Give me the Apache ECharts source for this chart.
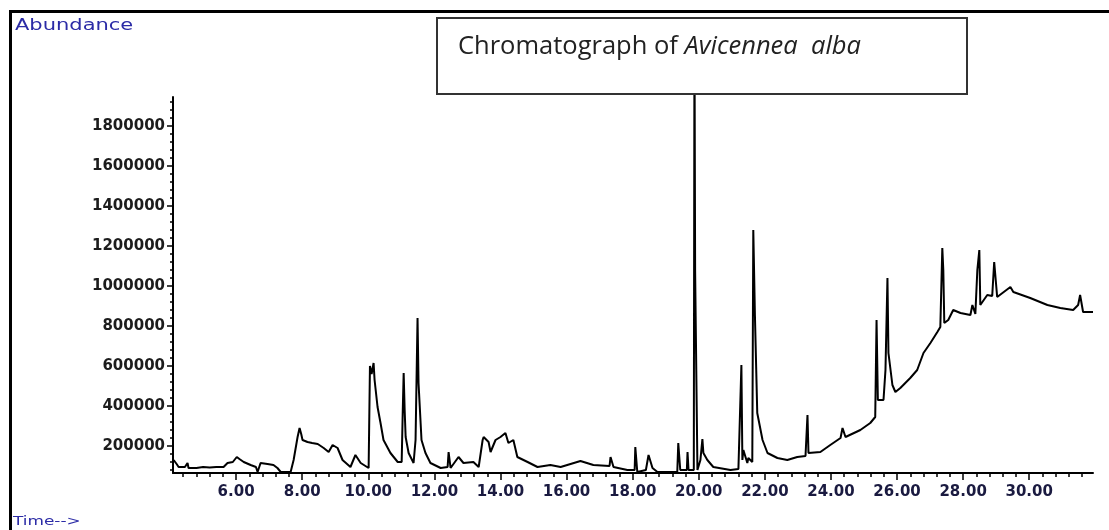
<!DOCTYPE html>
<html>
<head>
<meta charset="utf-8">
<title>Chromatograph of Avicennea alba</title>
<script src="https://cdn.jsdelivr.net/npm/echarts@6.0.0/dist/echarts.min.js"></script>
<style>
  html, body { margin: 0; padding: 0; background: #fff; }
  #chart { width: 1109px; height: 530px; }
</style>
</head>
<body>
<div id="chart"></div>
<script>
// retention time (min)
const times = [
  4.11, 4.20, 4.26, 4.45, 4.53, 4.56, 4.80, 5.00, 5.20, 5.40, 5.62, 5.74, 5.90, 6.02, 6.10, 6.23,
  6.44, 6.60, 6.65, 6.74, 6.95, 7.13, 7.25, 7.35, 7.65, 7.74, 7.86, 7.92, 7.97, 8.01, 8.16, 8.30,
  8.47, 8.65, 8.80, 8.92, 9.07, 9.22, 9.46, 9.61, 9.77, 10.01, 10.05, 10.10, 10.16, 10.19, 10.28,
  10.37, 10.46, 10.67, 10.89, 11.01, 11.04, 11.07, 11.10, 11.13, 11.22, 11.37, 11.43, 11.49, 11.52,
  11.61, 11.73, 11.88, 12.19, 12.40, 12.43, 12.49, 12.73, 12.88, 13.18, 13.34, 13.46, 13.49, 13.64,
  13.70, 13.85, 14.00, 14.15, 14.24, 14.39, 14.51, 14.82, 15.12, 15.51, 15.82, 16.42, 16.81, 17.30,
  17.33, 17.42, 17.84, 18.06, 18.08, 18.14, 18.40, 18.48, 18.60, 18.75, 19.35, 19.38, 19.44, 19.64,
  19.66, 19.69, 19.85, 19.87, 19.89, 19.93, 19.96, 20.05, 20.11, 20.14, 20.26, 20.44, 20.96, 21.20,
  21.29, 21.32, 21.35, 21.47, 21.50, 21.62, 21.65, 21.70, 21.77, 21.93, 22.08, 22.38, 22.68, 22.98,
  23.23, 23.29, 23.32, 23.68, 23.98, 24.29, 24.35, 24.44, 24.89, 25.19, 25.34, 25.38, 25.42, 25.59,
  25.65, 25.71, 25.74, 25.86, 25.95, 26.10, 26.40, 26.61, 26.80, 27.01, 27.22, 27.31, 27.37, 27.40,
  27.43, 27.55, 27.70, 27.92, 28.22, 28.28, 28.37, 28.43, 28.49, 28.52, 28.73, 28.88, 28.94, 29.03,
  29.43, 29.52, 30.03, 30.55, 30.94, 31.33, 31.48, 31.54, 31.63, 31.93
]
// abundance at each time
const abundance = [
  130000, 110000, 95000, 95000, 115000, 90000, 90000, 95000, 92000, 95000, 95000, 115000, 120000, 145000, 135000, 120000,
  105000, 95000, 70000, 115000, 110000, 105000, 90000, 70000, 70000, 130000, 245000, 290000, 260000, 230000, 220000, 215000,
  210000, 190000, 170000, 205000, 190000, 130000, 95000, 155000, 115000, 90000, 600000, 560000, 615000, 530000, 395000,
  315000, 230000, 165000, 120000, 120000, 355000, 565000, 380000, 245000, 165000, 115000, 230000, 840000, 515000,
  230000, 165000, 115000, 90000, 95000, 170000, 90000, 145000, 115000, 120000, 95000, 230000, 245000, 220000,
  170000, 230000, 245000, 265000, 215000, 230000, 145000, 120000, 95000, 105000, 95000, 125000, 105000, 100000,
  145000, 95000, 80000, 80000, 195000, 70000, 80000, 155000, 90000, 70000, 70000, 215000, 80000, 80000,
  170000, 80000, 80000, 2300000, 1075000, 1075000, 80000, 130000, 235000, 165000, 130000, 95000, 80000, 85000,
  605000, 130000, 180000, 115000, 140000, 120000, 1280000, 850000, 365000, 230000, 165000, 140000, 130000, 145000,
  150000, 355000, 165000, 170000, 205000, 240000, 290000, 245000, 280000, 315000, 345000, 830000, 430000, 430000,
  580000, 1040000, 665000, 505000, 470000, 490000, 540000, 580000, 665000, 715000, 770000, 795000, 1190000, 1080000,
  815000, 830000, 880000, 865000, 855000, 905000, 860000, 1080000, 1180000, 905000, 955000, 950000, 1120000, 945000,
  995000, 970000, 940000, 905000, 890000, 880000, 905000, 955000, 870000, 870000
]
const xTickLabels = [6, 8, 10, 12, 14, 16, 18, 20, 22, 24, 26, 28, 30]
const yTickLabels = [200000, 400000, 600000, 800000, 1000000, 1200000, 1400000, 1600000, 1800000]

const xMin = 4.09, xMax = 31.93
const yMin = 65000, yMax = 1945000

// minor ticks: 5 per major step
const xMinorTicks = []
for (let k = 11; k * 0.4 < xMax; k++) xMinorTicks.push(+(k * 0.4).toFixed(1))
const yMinorTicks = []
for (let k = 2; k * 40000 < yMax; k++) yMinorTicks.push(k * 40000)

const labelFont = 'DejaVu Sans'
const blue = '#2b2ba6'

const myEchart = echarts.init(document.getElementById('chart'), null, { renderer: 'canvas' })

const options = {
  animation: false,
  backgroundColor: '#fff',
  grid: {
    left: 173,
    right: 16,
    top: 97,
    bottom: 57
  },
  xAxis: [
    {
      type: 'value',
      min: xMin,
      max: xMax,
      position: 'bottom',
      axisLine: { lineStyle: { color: '#000', width: 2 } },
      axisTick: { customValues: xTickLabels, length: 7, lineStyle: { color: '#000', width: 1.5 } },
      axisLabel: {
        customValues: xTickLabels,
        formatter: (v) => v.toFixed(2),
        margin: 12,
        color: '#1a1a40',
        fontFamily: labelFont,
        fontWeight: 'bold',
        fontSize: 15
      },
      splitLine: { show: false }
    },
    {
      // minor ticks only
      type: 'value',
      min: xMin,
      max: xMax,
      position: 'bottom',
      axisLine: { show: false },
      axisTick: { customValues: xMinorTicks, length: 4, lineStyle: { color: '#000', width: 1.5 } },
      axisLabel: { show: false },
      splitLine: { show: false }
    }
  ],
  yAxis: [
    {
      type: 'value',
      min: yMin,
      max: yMax,
      position: 'left',
      axisLine: { show: true, lineStyle: { color: '#000', width: 2 } },
      axisTick: { show: true, customValues: yTickLabels, length: 6, lineStyle: { color: '#000', width: 1.5 } },
      axisLabel: {
        customValues: yTickLabels,
        formatter: (v) => String(v),
        margin: 8,
        color: '#1c1c1c',
        fontFamily: labelFont,
        fontWeight: 'bold',
        fontSize: 15
      },
      splitLine: { show: false }
    },
    {
      type: 'value',
      min: yMin,
      max: yMax,
      position: 'left',
      axisLine: { show: false },
      axisTick: { show: true, customValues: yMinorTicks, length: 3, lineStyle: { color: '#000', width: 1.5 } },
      axisLabel: { show: false },
      splitLine: { show: false }
    }
  ],
  series: [
    {
      type: 'line',
      name: 'TIC',
      xAxisIndex: 0,
      yAxisIndex: 0,
      symbol: 'none',
      clip: false, // the big peak runs up under the title box
      lineStyle: { color: '#000', width: 2 },
      data: times.map((t, i) => [t, abundance[i]]),
      z: 3
    }
  ],
  graphic: [
    {
      // outer frame
      type: 'rect',
      z: 50,
      shape: { x: 10.5, y: 11.5, width: 1200, height: 600 },
      style: { fill: 'none', stroke: '#000', lineWidth: 3 }
    },
    {
      type: 'text',
      z: 50,
      x: 15,
      y: 19,
      scaleX: 1.4,
      style: { text: 'Abundance', fill: blue, font: '15px "DejaVu Sans"' }
    },
    {
      type: 'text',
      z: 50,
      x: 13,
      y: 515,
      scaleX: 1.3,
      style: { text: 'Time-->', fill: blue, font: '13px "DejaVu Sans"' }
    },
    {
      type: 'group',
      z: 100,
      children: [
        {
          type: 'rect',
          z: 100,
          shape: { x: 437, y: 18, width: 530, height: 76 },
          style: { fill: '#fff', stroke: '#333', lineWidth: 2 }
        },
        {
          type: 'text',
          z: 101,
          x: 458,
          y: 47,
          style: {
            text: '{n|Chromatograph of }{i|Avicennea  alba}',
            verticalAlign: 'middle',
            rich: {
              n: { fontFamily: 'Open Sans', fontSize: 25.5, fill: '#222' },
              i: { fontFamily: 'Open Sans', fontSize: 25.5, fontStyle: 'italic', fill: '#222' }
            }
          }
        }
      ]
    }
  ]
}
myEchart.setOption(options)
window.addEventListener('resize', () => myEchart.resize())
</script>
</body>
</html>
